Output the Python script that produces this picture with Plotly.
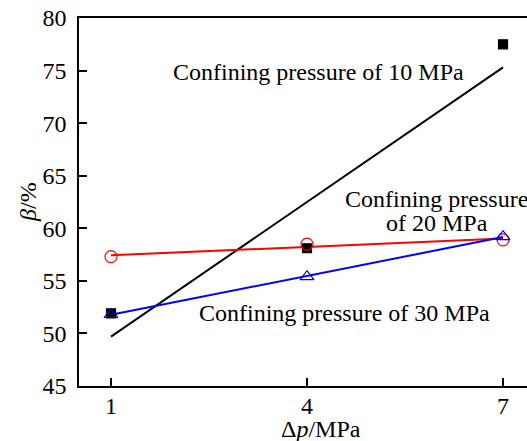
import numpy as np
import plotly.graph_objects as go

# Pressure difference (MPa) and measured beta (%) for each confining pressure
dp = [1, 4, 7]
beta_10 = [51.9, 58.1, 77.5]
beta_20 = [57.3, 58.5, 58.9]
beta_30 = [51.8, 55.4, 59.2]

x_ticks = [1, 4, 7]
y_ticks = [45, 50, 55, 60, 65, 70, 75, 80]

FONT = "Times New Roman, Liberation Serif, serif"


def fit_line(x, y):
    """Least-squares straight line through the points, evaluated at the ends."""
    k, b = np.polyfit(x, y, 1)
    xs = np.array([min(x), max(x)], dtype=float)
    return xs, k * xs + b


fig = go.Figure()

series = [
    (beta_10, "black", "square", "10 MPa"),
    (beta_20, "#ff0000", "circle-open", "20 MPa"),
    (beta_30, "#0000ff", "triangle-up-open", "30 MPa"),
]

# Regression lines first, markers on top
for vals, color, sym, name in series:
    xs, ys = fit_line(dp, vals)
    fig.add_trace(go.Scatter(x=xs, y=ys, mode="lines",
                             line=dict(color=color, width=2),
                             showlegend=False, hoverinfo="skip"))

for vals, color, sym, name in series:
    size = 9 if sym == "square" else 12
    fig.add_trace(go.Scatter(x=dp, y=vals, mode="markers", name=name,
                             marker=dict(symbol=sym, size=size, color=color,
                                         line=dict(color=color, width=1.2)),
                             showlegend=False))

annotations = [
    dict(text="Confining pressure of 10 MPa", x=4.17, y=74.9),
    dict(text="Confining pressure", x=5.98, y=62.75),
    dict(text="of 20 MPa", x=5.99, y=60.55),
    dict(text="Confining pressure of 30 MPa", x=4.57, y=51.9),
]
for a in annotations:
    fig.add_annotation(text=a["text"], x=a["x"], y=a["y"], xref="x", yref="y",
                       showarrow=False, xanchor="center", yanchor="middle",
                       font=dict(family=FONT, size=24, color="black"))

# Axis titles
fig.add_annotation(text="<i>β</i>/%", xref="paper", yref="paper",
                   x=-0.114, y=0.5, showarrow=False, textangle=-90,
                   xanchor="center", yanchor="middle",
                   font=dict(family=FONT, size=24, color="black"))
fig.add_annotation(text="Δ<i>p</i>/MPa", xref="paper", yref="paper",
                   x=0.54, y=-0.118, showarrow=False,
                   xanchor="center", yanchor="middle",
                   font=dict(family=FONT, size=24, color="black"))

fig.update_layout(
    width=527, height=441,
    margin=dict(l=79, r=0, t=18, b=55),
    paper_bgcolor="white", plot_bgcolor="white",
    font=dict(family=FONT, size=24, color="black"),
    xaxis=dict(range=[0.51, 7.367], tickvals=x_ticks, ticktext=[str(v) for v in x_ticks],
               showgrid=False, zeroline=False, showline=True, linecolor="black",
               linewidth=1.5, mirror=True, ticks="inside", ticklen=8, tickwidth=1.5,
               tickcolor="black", ticklabelstandoff=-3),
    yaxis=dict(range=[45, 80], tickvals=y_ticks, showgrid=False, zeroline=False,
               showline=True, linecolor="black", linewidth=1.5, mirror=False,
               ticks="inside", ticklen=8, tickwidth=1.5, tickcolor="black",
               ticklabelstandoff=6),
)

fig.write_html("out.html")
